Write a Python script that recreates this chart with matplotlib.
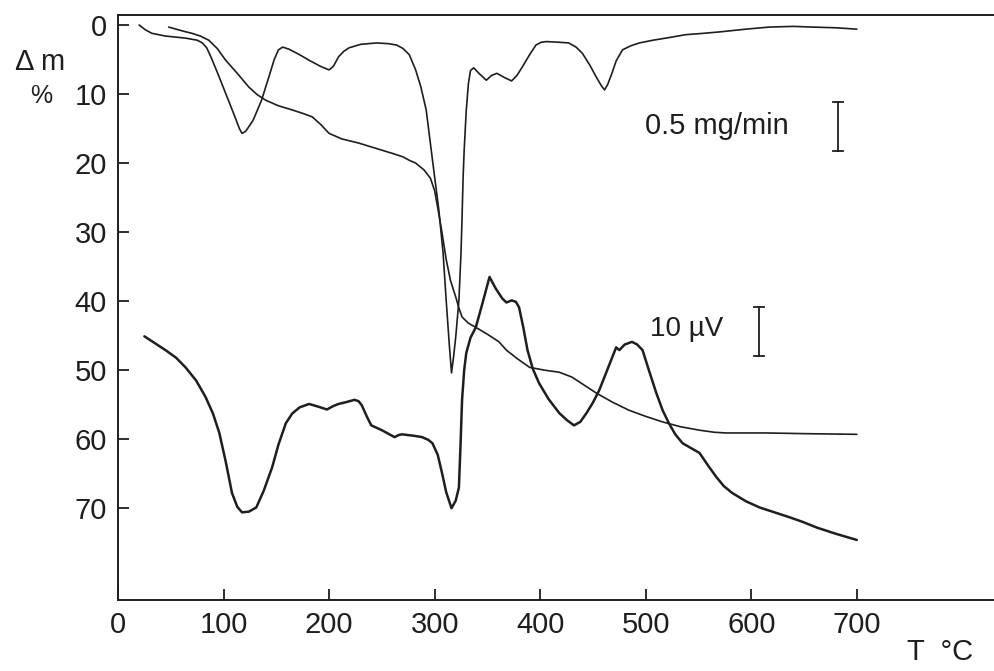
import matplotlib
matplotlib.use("Agg")
import matplotlib.pyplot as plt
from matplotlib.lines import Line2D

plt.rcParams['font.family'] = ['Liberation Sans', 'DejaVu Sans']

# TG curve (mass loss, %)
tg_t = [48, 55, 62, 70, 78, 86, 94, 102, 113, 124, 132, 140, 152, 165, 175, 184,
        192, 200, 212, 228, 245, 260, 270, 276, 282, 290, 296, 300, 303, 307,
        311, 315, 320, 323, 326, 332, 339, 350, 361, 368, 378, 390, 404, 418,
        430, 441, 453, 468, 484, 500, 516, 533, 551, 565, 576, 595, 614, 650, 700]
tg_m = [0.3, 0.6, 0.9, 1.2, 1.6, 2.2, 3.4, 5.1, 7.0, 9.0, 10.1, 10.9, 11.7, 12.3,
        12.8, 13.3, 14.4, 15.7, 16.5, 17.1, 17.9, 18.6, 19.1, 19.6, 20.0, 21.0,
        22.2, 24.0, 26.5, 30.1, 34.0, 37.0, 39.4, 41.0, 42.3, 43.2, 43.8, 44.8,
        45.9, 47.1, 48.3, 49.6, 50.0, 50.3, 51.0, 52.1, 53.3, 54.6, 55.8, 56.7,
        57.5, 58.2, 58.7, 59.0, 59.1, 59.1, 59.1, 59.2, 59.3]

# DTG curve (plotted on the same scale)
dtg_t = [20, 26, 32, 45, 64, 75, 80, 84, 88, 95, 102, 110, 115, 117.5, 121, 128,
         136, 143, 148, 152, 156, 162, 172, 181, 192, 200, 204, 209, 214, 219,
         230, 245, 256, 264, 270, 276, 282, 287, 292, 298, 304, 308, 311, 314,
         316, 318, 320, 323, 325, 326, 327, 328, 330, 332, 334, 337, 342, 349,
         354, 359, 366, 373, 378, 383, 390, 396, 401, 406, 418, 427, 434, 440,
         447, 453, 458, 461, 464, 468, 472, 478, 486, 494, 507, 519, 538, 555,
         570, 595, 617, 640, 658, 680, 700]
dtg_v = [0.0, 0.7, 1.2, 1.6, 1.9, 2.2, 2.6, 3.3, 4.6, 7.2, 9.9, 13.0, 15.0, 15.7,
         15.4, 13.8, 10.9, 7.5, 5.0, 3.6, 3.2, 3.5, 4.3, 5.1, 6.0, 6.5, 6.0, 4.6,
         3.8, 3.3, 2.8, 2.6, 2.7, 2.9, 3.4, 4.3, 6.5, 9.0, 12.3, 19.6, 26.8, 33.0,
         40.0, 46.5, 50.4, 48.0, 45.2, 39.9, 33.0, 27.8, 22.0, 18.1, 12.3, 8.5,
         6.6, 6.2, 7.0, 8.0, 7.3, 7.0, 7.6, 8.1, 7.3, 6.1, 4.3, 2.9, 2.5, 2.4,
         2.5, 2.6, 3.2, 4.1, 5.8, 7.5, 8.8, 9.4, 8.6, 7.0, 5.2, 3.6, 3.0, 2.6,
         2.2, 1.9, 1.4, 1.2, 1.0, 0.6, 0.3, 0.2, 0.3, 0.4, 0.6]

# DTA curve (plotted on the same scale)
dta_t = [25, 35, 45, 55, 64, 74, 83, 90, 96, 102, 108, 113, 117.5, 124, 131, 138,
         146, 152, 159, 165, 172, 181, 190, 198, 204, 209, 217, 224, 228, 231,
         236, 240, 250, 256, 262, 266, 269, 280, 288, 294, 298, 303, 307, 311,
         316, 320, 323, 324.5, 326, 328, 330, 334, 339, 345, 352, 358, 364, 368,
         373, 377, 380, 384, 388, 393, 399, 408, 418, 425, 432, 438, 444, 450,
         456, 464, 472, 475, 480, 487, 492, 497, 503, 510, 516, 522, 528, 535,
         543, 551, 559, 567, 574, 582, 595, 608, 622, 636, 649, 662, 680, 700]
dta_v = [45.1, 46.1, 47.1, 48.2, 49.6, 51.5, 53.9, 56.3, 59.1, 63.2, 67.8, 69.8,
         70.6, 70.5, 69.9, 67.5, 64.1, 60.8, 57.7, 56.3, 55.4, 54.9, 55.3, 55.7,
         55.2, 54.9, 54.6, 54.3, 54.5, 55.1, 56.8, 58.0, 58.7, 59.2, 59.7, 59.4,
         59.3, 59.5, 59.7, 60.1, 60.6, 62.3, 64.9, 67.7, 70.0, 68.9, 67.0, 61.0,
         54.3, 50.0, 47.5, 45.3, 43.8, 40.5, 36.5, 38.2, 39.6, 40.2, 39.9, 40.1,
         40.9, 43.8, 47.1, 49.8, 51.9, 54.2, 56.2, 57.2, 58.0, 57.5, 56.2, 54.7,
         52.9, 49.8, 46.7, 47.1, 46.3, 45.9, 46.3, 47.1, 50.0, 53.3, 55.8, 57.7,
         59.3, 60.6, 61.3, 62.0, 63.8, 65.5, 66.8, 67.8, 69.0, 69.9, 70.6, 71.3,
         72.0, 72.8, 73.7, 74.6]

x_ticks = [0, 100, 200, 300, 400, 500, 600, 700]
y_ticks = [0, 10, 20, 30, 40, 50, 60, 70]

ink = '#1e1e1e'
W, H = 994, 671
fig = plt.figure(figsize=(W / 100, H / 100), dpi=100)
ax = fig.add_axes([118 / W, (H - 600) / H, (W - 118) / W, (600 - 15) / H])

line_kw = dict(color=ink, solid_joinstyle='round', solid_capstyle='round')
ax.plot(tg_t, tg_m, lw=1.2, **line_kw)
ax.plot(dtg_t, dtg_v, lw=1.2, **line_kw)
ax.plot(dta_t, dta_v, lw=1.8, **line_kw)

ax.set_xlim(0, 830)
ax.set_ylim(83.3, -1.45)
ax.set_xticks(x_ticks)
ax.set_yticks(y_ticks)
ax.tick_params(direction='in', length=8, width=1.3, colors=ink,
               labelsize=21, pad=8)
ax.spines['right'].set_visible(False)
for s in ['left', 'top', 'bottom']:
    ax.spines[s].set_linewidth(1.4)
    ax.spines[s].set_color(ink)

# axis labels
fig.text(40 / W, 1 - 62 / H, 'Δ m', fontsize=21, color=ink, ha='center', va='center')
fig.text(41 / W, 1 - 96 / H, '%', fontsize=18, color=ink, ha='center', va='center')
fig.text(940 / W, 1 - 652 / H, 'T  °C', fontsize=21, color=ink, ha='center', va='center')

# scale marks
fig.text(645 / W, 1 - 126 / H, '0.5 mg/min', fontsize=21, color=ink, va='center')
fig.text(650 / W, 1 - 329 / H, '10 µV', fontsize=20, color=ink, va='center')


def scale_bar(x, y0, y1):
    for xs, ys in [([x, x], [y0, y1]), ([x - 5, x + 5], [y0, y0]), ([x - 5, x + 5], [y1, y1])]:
        fig.add_artist(Line2D([v / W for v in xs], [1 - v / H for v in ys],
                              color=ink, lw=1.3))


scale_bar(838, 102, 151)
scale_bar(759, 307, 356)

fig.savefig('out.png', dpi=100, facecolor='white')
